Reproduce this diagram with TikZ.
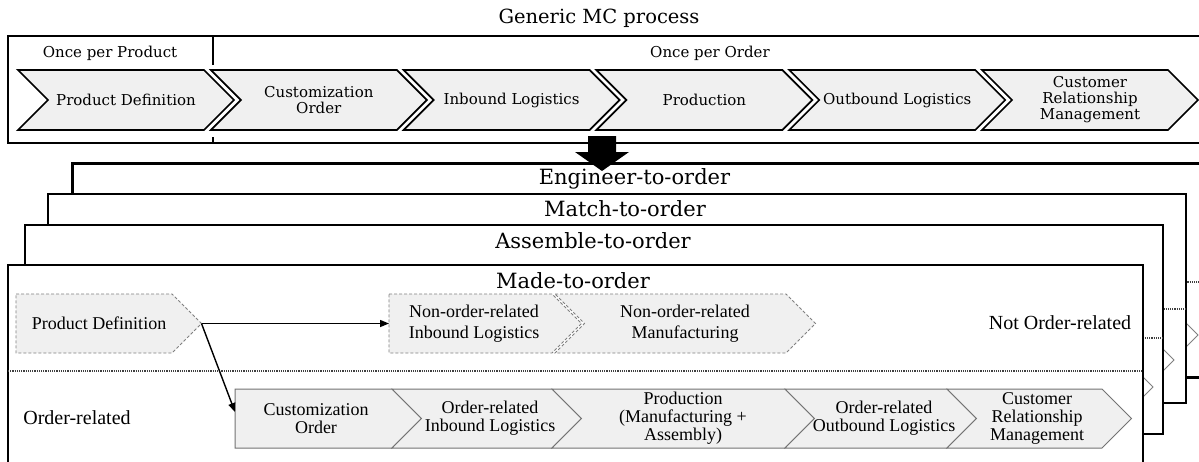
\documentclass[tikz,border=0pt]{standalone}
\usepackage{fontspec}
\setmainfont{DejaVu Serif}
\newfontfamily\tnr{Liberation Serif}
\usetikzlibrary{arrows.meta}
\definecolor{chevfill}{HTML}{F0F0F0}
\definecolor{dashgray}{HTML}{808080}

% chevron with notched left side: style, left x, top-right x, top y, bottom y
\newcommand\chevron[5][]{%
  \path[#1] (#2,#4) -- (#3,#4) -- ({#3+(#5-#4)/2},{(#4+#5)/2}) -- (#3,#5) -- (#2,#5)
    -- ({#2+(#5-#4)/2},{(#4+#5)/2}) -- cycle;}
% pentagon arrow with a flat left side
\newcommand\pentarrow[5][]{%
  \path[#1] (#2,#4) -- (#3,#4) -- ({#3+(#5-#4)/2},{(#4+#5)/2}) -- (#3,#5) -- (#2,#5) -- cycle;}

\tikzset{
  topchev/.style={fill=chevfill, draw=black, line width=1.7},
  dchev/.style={fill=chevfill, draw=dashgray, line width=0.9, dash pattern=on 3pt off 2pt},
  schev/.style={fill=chevfill, draw=black!55, line width=1},
  peekchev/.style={draw=black!50, line width=0.9},
  sepline/.style={draw=black!75, line width=1.3, dash pattern=on 1.2pt off 1pt},
  cardbox/.style={draw=black, line width=2.2, fill=white},
  toplab/.style={font=\fontsize{15}{16}\selectfont, align=center, inner sep=0},
  titlelab/.style={font=\fontsize{19.5}{22}\selectfont, inner sep=0},
  boxlab/.style={font=\fontsize{21}{24}\selectfont, inner sep=0},
  lowlab/.style={font=\tnr\fontsize{18}{18}\selectfont, align=center, inner sep=0},
  dashlab/.style={font=\tnr\fontsize{18}{21}\selectfont, align=center, inner sep=0},
  rowlab/.style={font=\tnr\fontsize{20}{22}\selectfont, inner sep=0},
  conn/.style={draw=black, line width=1.4, -{Triangle[length=9pt,width=7pt]}},
}

\begin{document}
\begin{tikzpicture}[x=1pt, y=-1pt, line join=miter]
\useasboundingbox (0,0) rectangle (1199,461);
\fill[white] (0,0) rectangle (1199,461);

% ---- generic process ----
\node[titlelab] (title) at (599,18) {Generic MC process};
\draw[line width=2] (1205,36) -- (8,36) -- (8,143) -- (1205,143);
\draw[line width=1.5] (213,36) -- (213,65);
\draw[line width=1.5] (213,137) -- (213,143);
\node[toplab] (perproduct) at (110,53) {Once per Product};
\node[toplab] (perorder) at (710,53) {Once per Order};

\chevron[topchev]{18}{204}{70}{130}
\chevron[topchev]{210.8}{396.8}{70}{130}
\chevron[topchev]{403.6}{589.6}{70}{130}
\chevron[topchev]{596.4}{782.4}{70}{130}
\chevron[topchev]{789.2}{975.2}{70}{130}
\chevron[topchev]{982}{1168}{70}{130}
\node[toplab] (gpd) at (126,100) {Product Definition};
\node[toplab] (gco) at (318.8,100) {Customization\\Order};
\node[toplab] (gil) at (511.6,100) {Inbound Logistics};
\node[toplab] (gpr) at (704.4,100) {Production};
\node[toplab] (gol) at (897.2,100) {Outbound Logistics};
\node[toplab] (gcrm) at (1090,100) {Customer\\Relationship\\Management};

% ---- stacked order types, back to front ----
\path[cardbox, line width=3] (72,163) rectangle (1240,377);
\draw[sepline] (72,282) -- (1240,282);
\chevron[peekchev]{1013}{1168.5}{305.5}{364.5}
\node[boxlab] (eto) at (634.5,178.5) {Engineer-to-order};

\path[cardbox] (48,194) rectangle (1186,403);
\draw[sepline] (48,309) -- (1186,309);
\chevron[peekchev]{989}{1144.5}{330.5}{389.5}
\node[boxlab] (mto) at (625,208.5) {Match-to-order};

\path[cardbox] (25,225) rectangle (1163,434);
\draw[sepline] (25,338) -- (1163,338);
\chevron[peekchev]{968}{1123.5}{357.5}{416.5}
\node[boxlab] (ato) at (593,241) {Assemble-to-order};

\path[cardbox] (8,265) rectangle (1143,480);
\node[boxlab] (made) at (573,281) {Made-to-order};
\draw[sepline] (8,371) -- (1143,371);

% not order-related row
\pentarrow[dchev]{16}{172}{294}{353}
\pentarrow[dchev]{389}{552}{294}{353}
\chevron[dchev]{555}{786}{294}{353}
\node[lowlab] (pd) at (99,323.5) {Product Definition};
\node[dashlab] (nil) at (474,323.5) {Non-order-related\\Inbound Logistics};
\node[dashlab] (nmf) at (685,323.5) {Non-order-related\\Manufacturing};
\node[rowlab] (notrel) at (1060,323) {Not Order-related};

% order-related row
\pentarrow[schev]{235}{392}{389}{448}
\chevron[schev]{392}{552}{389}{448}
\chevron[schev]{552}{785}{389}{448}
\chevron[schev]{785}{947}{389}{448}
\chevron[schev]{947}{1102}{389}{448}
\node[rowlab] (rel) at (77,418) {Order-related};
\node[lowlab] (co) at (316,418.5) {Customization\\Order};
\node[lowlab] (oil) at (490,418.5) {Order-related\\Inbound Logistics};
\node[lowlab] (prod) at (683,418.5) {Production\\(Manufacturing +\\Assembly)};
\node[lowlab] (ool) at (884,418.5) {Order-related\\Outbound Logistics};
\node[lowlab] (crm) at (1037,418.5) {Customer\\Relationship\\Management};

% connectors out of the product definition
\coordinate (pdtip) at (201.5,323.5);
\coordinate (nilin) at (389,323.5);
\coordinate (coin) at (235,412);
\draw[conn] (pdtip) -- (nilin);
\draw[conn] (pdtip) -- (coin);

% block arrow from the generic process to the order types
\fill[black] (588,136) -- (616,136) -- (616,152) -- (629,152) -- (602,171)
  -- (575,152) -- (588,152) -- cycle;
\end{tikzpicture}
\end{document}
